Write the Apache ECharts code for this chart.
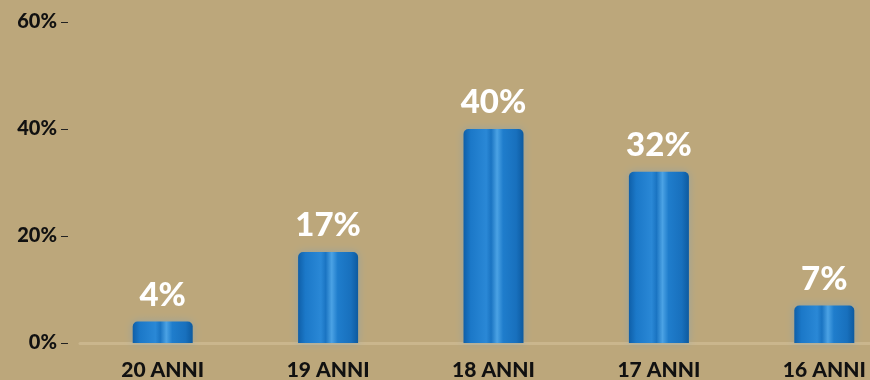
<!DOCTYPE html>
<html>
<head>
<meta charset="utf-8">
<script src="https://cdn.jsdelivr.net/npm/echarts@6/dist/echarts.min.js"></script>
<style>
  html, body { margin: 0; padding: 0; background: #bca77b; }
  #chart { width: 870px; height: 380px; }
</style>
</head>
<body>
<div id="chart"></div>
<script>
// Age groups along the x axis and their shares (percent)
const categories = ['20 ANNI', '19 ANNI', '18 ANNI', '17 ANNI', '16 ANNI'];
const shares = [4, 17, 40, 32, 7];
const yTicks = [0, 20, 40, 60];

const chart = echarts.init(document.getElementById('chart'));

// Cylinder-like shading across each bar
const barFill = new echarts.graphic.LinearGradient(0, 0, 1, 0, [
  { offset: 0.00, color: '#0f5fa8' },
  { offset: 0.12, color: '#1b78c8' },
  { offset: 0.38, color: '#2a88d6' },
  { offset: 0.46, color: '#1a74c2' },
  { offset: 0.56, color: '#4ba2e4' },
  { offset: 0.66, color: '#1f7dcc' },
  { offset: 0.88, color: '#1870bd' },
  { offset: 1.00, color: '#0d5a9f' }
]);

chart.setOption({
  backgroundColor: '#bca77b',
  animation: false,
  grid: {
    left: 80, right: -37, top: 22, bottom: 37,
    containLabel: false,
    outerBoundsMode: 'none'
  },
  xAxis: {
    type: 'category',
    data: categories,
    axisLine: { show: true, lineStyle: { color: 'rgba(215,198,160,0.5)', width: 3 } },
    axisTick: { show: false },
    axisLabel: {
      color: '#111',
      fontFamily: 'Lato',
      fontWeight: 900,
      fontSize: 21,
      margin: 17
    }
  },
  yAxis: {
    type: 'value',
    min: yTicks[0],
    max: yTicks[yTicks.length - 1],
    interval: yTicks[1] - yTicks[0],
    offset: 12,
    axisLine: { show: false },
    axisTick: { show: true, length: 7, lineStyle: { color: '#222', width: 1 } },
    splitLine: { show: false },
    axisLabel: {
      color: '#111',
      fontFamily: 'Lato',
      fontWeight: 900,
      fontSize: 20,
      margin: 11,
      formatter: v => v + '%'
    }
  },
  series: [{
    type: 'bar',
    data: shares,
    barWidth: 60,
    itemStyle: {
      color: barFill,
      borderRadius: [5, 5, 0, 0],
      shadowColor: 'rgba(120,160,190,0.55)',
      shadowBlur: 8
    },
    label: {
      show: true,
      position: 'top',
      distance: 10,
      color: '#ffffff',
      fontFamily: 'Lato',
      fontWeight: 900,
      fontSize: 33,
      formatter: p => p.value + '%'
    }
  }]
});
</script>
</body>
</html>
